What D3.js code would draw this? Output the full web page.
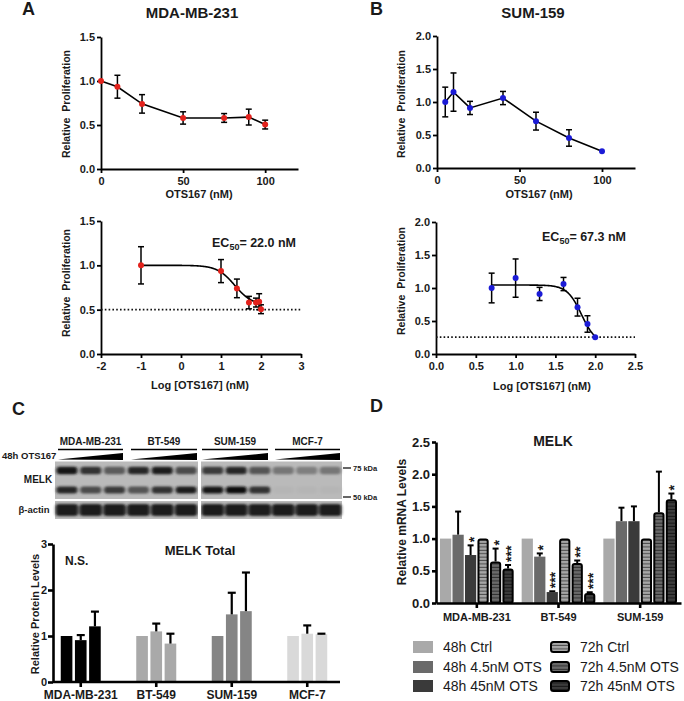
<!DOCTYPE html>
<html>
<head>
<meta charset="utf-8">
<script src="https://cdn.jsdelivr.net/npm/d3@7"></script>
<style>
  body { margin: 0; background: #fff; }
  svg text { font-family: "Liberation Sans", Arial, sans-serif; font-weight: bold; }
</style>
</head>
<body>
<div id="chart"></div>
<script>
// ---------- data ----------
// A: MDA-MB-231 dose response
const concA = [0, 10, 25, 50, 75, 90, 100];
const logConcA = [-1, 1, 1.398, 1.699, 1.875, 1.954, 2];
const prolifA = [1.0, 0.935, 0.74, 0.58, 0.58, 0.59, 0.505];
const errA = [0.21, 0.13, 0.105, 0.07, 0.05, 0.09, 0.05];
const fitA = { top: 1.0, bottom: 0.55, ec50: 22.0, hill: 2 };
const floorA = 0.5;

// B: SUM-159 dose response
const concB = [5, 10, 20, 40, 60, 80, 100];
const logConcB = [0.699, 1, 1.301, 1.602, 1.778, 1.903, 2];
const prolifB = [1.0, 1.15, 0.91, 1.06, 0.71, 0.455, 0.255];
const errB = [0.225, 0.29, 0.10, 0.10, 0.135, 0.125, 0];
const fitB = { top: 1.045, bottom: 0.15, ec50: 67.3, hill: 4.8 };
const floorB = 0.255;

// C: western blot + quantification
const cellLines = ["MDA-MB-231", "BT-549", "SUM-159", "MCF-7"];
const melkUpper = [0.95, 0.8, 0.55, 0.85, 0.9, 0.65, 0.75, 0.85, 0.6, 0.4, 0.35, 0.4];
const melkLower = [0.85, 0.65, 0.75, 0.6, 0.8, 0.9, 0.95, 1.0, 0.8, 0.04, 0.04, 0.04];
const actinBand = [0.92, 0.9, 0.92, 0.92, 0.92, 0.9, 0.9, 0.9, 0.9, 0.92, 0.92, 0.92];
const proteinLevels = [[1.0, 0.91, 1.21], [1.0, 1.10, 0.835], [1.0, 1.47, 1.54], [1.0, 1.05, 1.04]];
const proteinErr = [[0, 0.11, 0.32], [0, 0.17, 0.215], [0, 0.47, 0.84], [0, 0.18, 0.01]];
const proteinColors = ["#000000", "#a9a9a9", "#858585", "#d9d9d9"];

// D: MELK mRNA
const mrnaLines = ["MDA-MB-231", "BT-549", "SUM-159"];
const mrnaSeries = ["48h Ctrl", "48h 4.5nM OTS", "48h 45nM OTS", "72h Ctrl", "72h 4.5nM OTS", "72h 45nM OTS"];
const mrnaLevels = [[1, 1.06, 0.745, 1, 0.645, 0.535], [1, 0.72, 0.17, 1, 0.62, 0.155], [1, 1.27, 1.27, 1, 1.41, 1.61]];
const mrnaErr = [[0, 0.36, 0.15, 0, 0.2, 0.055], [0, 0.05, 0.012, 0, 0.04, 0.012], [0, 0.21, 0.23, 0, 0.63, 0.09]];
const mrnaSig = [["", "", "*", "", "*", "***"], ["", "*", "***", "", "**", "***"], ["", "", "", "", "", "*"]];
const mrnaFill = ["#a9a9a9", "#6a6a6a", "#3a3a3a", "#a6a6a6", "#6a6a6a", "#3c3c3c"];
const mrnaStripe = ["", "", "", "#4a4a4a", "#2e2e2e", "#161616"];

const ink = "#1a1a1a";

const svg = d3.select("#chart").append("svg").attr("width", 684).attr("height", 701);
const defs = svg.append("defs");

function label(x, y, txt, size, opts = {}) {
  return svg.append("text")
    .attr("x", x).attr("y", y)
    .attr("text-anchor", opts.anchor || "middle")
    .style("font-size", size + "px")
    .style("font-weight", opts.weight || "bold")
    .attr("fill", ink)
    .text(txt);
}

function vlabel(x, y, txt, size) {
  return svg.append("text")
    .attr("transform", `translate(${x},${y}) rotate(-90)`)
    .attr("text-anchor", "middle")
    .attr("dy", "0.35em")
    .style("font-size", size + "px")
    .style("white-space", "pre")
    .attr("fill", ink)
    .text(txt);
}

function styleAxis(g, size, sw) {
  g.select(".domain").attr("stroke", "#000").attr("stroke-width", sw);
  g.selectAll(".tick line").attr("stroke", "#000").attr("stroke-width", sw);
  g.selectAll(".tick text").style("font-size", size + "px").attr("fill", ink);
}

// ---------- dose response panels ----------
function dosePanel(cfg) {
  const x = d3.scaleLinear().domain(cfg.xDomain).range(cfg.xRange);
  const y = d3.scaleLinear().domain(cfg.yDomain).range(cfg.yRange);
  const g = svg.append("g");

  const ax = g.append("g")
    .attr("transform", `translate(0,${cfg.yRange[0]})`)
    .call(d3.axisBottom(x).tickValues(cfg.xTicks).tickFormat(cfg.xFmt)
      .tickSize(4).tickSizeOuter(0).tickPadding(4));
  styleAxis(ax, 11, 1.8);

  const ay = g.append("g")
    .attr("transform", `translate(${cfg.xRange[0]},0)`)
    .call(d3.axisLeft(y).tickValues(cfg.yTicks).tickFormat(d3.format(".1f"))
      .tickSize(4).tickSizeOuter(0).tickPadding(2));
  styleAxis(ay, 11, 1.8);

  if (cfg.floor != null) {
    g.append("line")
      .attr("x1", cfg.xRange[0]).attr("x2", cfg.xRange[1])
      .attr("y1", y(cfg.floor)).attr("y2", y(cfg.floor))
      .attr("stroke", "#111").attr("stroke-width", 1.6)
      .attr("stroke-dasharray", "1.6,2.2");
  }

  if (cfg.fit) {
    // 4-parameter logistic fit drawn from the fit parameters
    const f = cfg.fit, lec = Math.log10(f.ec50);
    const xs = d3.range(cfg.xs[0], cfg.xs[cfg.xs.length - 1] + 0.0001, 0.01);
    const pts = xs.map(v => [x(v), y(f.bottom + (f.top - f.bottom) / (1 + Math.pow(10, (v - lec) * f.hill)))]);
    g.append("path").attr("d", d3.line()(pts))
      .attr("fill", "none").attr("stroke", "#000").attr("stroke-width", 1.6);
  } else {
    g.append("path")
      .attr("d", d3.line()(cfg.xs.map((v, i) => [x(v), y(cfg.ys[i])])))
      .attr("fill", "none").attr("stroke", "#000").attr("stroke-width", 1.6);
  }

  cfg.xs.forEach((v, i) => {
    const e = cfg.errs[i];
    if (!e || (cfg.skipZero && v === 0)) return;
    const cx = x(v), y1 = y(cfg.ys[i] + e), y2 = y(cfg.ys[i] - e);
    g.append("line").attr("x1", cx).attr("x2", cx).attr("y1", y1).attr("y2", y2)
      .attr("stroke", "#000").attr("stroke-width", 1.5);
    [y1, y2].forEach(yy => g.append("line")
      .attr("x1", cx - 3).attr("x2", cx + 3).attr("y1", yy).attr("y2", yy)
      .attr("stroke", "#000").attr("stroke-width", 1.5));
  });

  g.selectAll("circle.pt")
    .data(cfg.xs.map((v, i) => [v, cfg.ys[i]]))
    .join("circle")
    .attr("cx", d => x(d[0])).attr("cy", d => y(d[1]))
    .attr("r", 3).attr("fill", cfg.color);
}

// A
label(22, 15, "A", 18, { anchor: "start" });
label(192, 18, "MDA-MB-231", 15);
dosePanel({
  xDomain: [0, 120], xRange: [101, 298], xTicks: [0, 50, 100], xFmt: d3.format("d"),
  yDomain: [0, 1.5], yRange: [169, 37], yTicks: [0, 0.5, 1, 1.5],
  xs: concA, ys: prolifA, errs: errA, skipZero: true, color: "#e3221c"
});
label(199, 198, "OTS167 (nM)", 11);
vlabel(66, 104, "Relative  Proliferation", 10.5);

dosePanel({
  xDomain: [-2, 3], xRange: [101, 301], xTicks: [-2, -1, 0, 1, 2, 3], xFmt: d => String(d),
  yDomain: [0, 1.5], yRange: [354, 221], yTicks: [0, 0.5, 1, 1.5],
  xs: logConcA, ys: prolifA, errs: errA, fit: fitA, floor: floorA, color: "#e3221c"
});
label(200, 389, "Log [OTS167] (nM)", 11);
vlabel(66, 283, "Relative  Proliferation", 10.5);

function ecText(x, y, val) {
  const t = svg.append("text").attr("x", x).attr("y", y).style("font-size", "12.5px").attr("fill", ink);
  t.append("tspan").text("EC");
  t.append("tspan").attr("dy", 3).style("font-size", "9px").text("50");
  t.append("tspan").attr("dy", -3).text("= " + val.toFixed(1) + " nM");
}
ecText(212, 247, fitA.ec50);

// B
label(370, 15, "B", 18, { anchor: "start" });
label(533, 18, "SUM-159", 15);
dosePanel({
  xDomain: [0, 120], xRange: [437, 635], xTicks: [0, 50, 100], xFmt: d3.format("d"),
  yDomain: [0, 2], yRange: [168, 36], yTicks: [0, 0.5, 1, 1.5, 2],
  xs: concB, ys: prolifB, errs: errB, color: "#1b1bd6"
});
label(539, 198, "OTS167 (nM)", 11);
vlabel(401, 104, "Relative  Proliferation", 10.5);

dosePanel({
  xDomain: [0, 2.5], xRange: [436, 635], xTicks: [0, 0.5, 1, 1.5, 2, 2.5], xFmt: d3.format(".1f"),
  yDomain: [0, 2], yRange: [354, 222], yTicks: [0, 0.5, 1, 1.5, 2],
  xs: logConcB, ys: prolifB, errs: errB, fit: fitB, floor: floorB, color: "#1b1bd6"
});
label(542, 390, "Log [OTS167] (nM)", 11);
vlabel(401, 281, "Relative  Proliferation", 10.5);
ecText(542, 241, fitB.ec50);

// ---------- C: blot ----------
label(12, 415, "C", 18, { anchor: "start" });

const blurF = defs.append("filter").attr("id", "blur").attr("x", "-30%").attr("y", "-80%")
  .attr("width", "160%").attr("height", "260%");
blurF.append("feGaussianBlur").attr("stdDeviation", "1.6 1.2");

const groupSpan = [[58, 123], [131, 197], [202, 268], [275, 340]];
cellLines.forEach((c, i) => {
  const [a, b] = groupSpan[i];
  label((a + b) / 2, 445, c, 10);
  svg.append("line").attr("x1", a).attr("x2", b).attr("y1", 449.5).attr("y2", 449.5)
    .attr("stroke", "#000").attr("stroke-width", 1.5);
  svg.append("path").attr("d", `M${a},459.5L${b},453L${b},460Z`).attr("fill", "#000");
});
label(2, 459, "48h OTS167", 9.5, { anchor: "start" });
label(38, 483, "MELK", 10);
label(34, 513, "β-actin", 9.5);

const sections = [[55, 198], [201, 342]];
const laneScale = sections.map(s => d3.scaleBand().domain(d3.range(6)).range(s));
const laneX = d3.range(12).map(i => {
  const s = laneScale[Math.floor(i / 6)];
  return s(i % 6) + s.bandwidth() / 2;
});
const bandShade = d3.interpolateRgb("#bcbcbc", "#0e0e0e");

[[461.5, 499], [501, 519]].forEach(([y0, y1]) => {
  sections.forEach(([a, b]) => {
    svg.append("rect").attr("x", a).attr("y", y0).attr("width", b - a).attr("height", y1 - y0)
      .attr("fill", "#bababa");
  });
});

const blot = svg.append("g").attr("filter", "url(#blur)");
function bands(vals, cy, h, w) {
  blot.selectAll(null).data(vals).join("rect")
    .attr("x", (d, i) => laneX[i] - w / 2).attr("y", cy - h / 2)
    .attr("width", w).attr("height", h).attr("rx", 3)
    .attr("fill", d => bandShade(d));
}
bands(melkUpper, 470.5, 7.5, 21);
bands(melkLower, 490, 7, 21);
bands(actinBand, 510, 12, 22.5);

// splice lines between blot sections
svg.append("rect").attr("x", 198).attr("y", 461).attr("width", 3).attr("height", 59).attr("fill", "#fff");
svg.append("rect").attr("x", 55).attr("y", 499).attr("width", 288).attr("height", 2).attr("fill", "#fff");

[[468, "75 kDa"], [497, "50 kDa"]].forEach(([yy, t]) => {
  svg.append("line").attr("x1", 343).attr("x2", 351).attr("y1", yy).attr("y2", yy)
    .attr("stroke", "#000").attr("stroke-width", 1.2);
  label(353, yy + 2.7, t, 7.5, { anchor: "start" });
});

// ---------- C: quantification ----------
const xC = d3.scaleBand().domain(cellLines).range([43, 345]);
const xC1 = d3.scaleBand().domain(d3.range(3))
  .range([xC.bandwidth() / 2 - 20, xC.bandwidth() / 2 + 20]).paddingInner(0.18);
const yC = d3.scaleLinear().domain([0, 3]).range([682, 544]);

const gC = svg.append("g");
cellLines.forEach((c, i) => {
  proteinLevels[i].forEach((v, j) => {
    const bx = xC(c) + xC1(j), bw = xC1.bandwidth(), cx = bx + bw / 2;
    gC.append("rect").attr("x", bx).attr("y", yC(v)).attr("width", bw).attr("height", yC(0) - yC(v))
      .attr("fill", proteinColors[i]);
    const e = proteinErr[i][j];
    if (e > 0) {
      gC.append("line").attr("x1", cx).attr("x2", cx).attr("y1", yC(v)).attr("y2", yC(v + e))
        .attr("stroke", "#000").attr("stroke-width", 2.2);
      gC.append("line").attr("x1", cx - 4).attr("x2", cx + 4).attr("y1", yC(v + e)).attr("y2", yC(v + e))
        .attr("stroke", "#000").attr("stroke-width", 2.2);
    }
  });
});

const axC = svg.append("g").attr("transform", "translate(0,682)")
  .call(d3.axisBottom(xC).tickSize(5).tickSizeOuter(0).tickPadding(3));
axC.select(".domain").attr("d", "M53,0H340");
styleAxis(axC, 12, 2.6);

const ayC = svg.append("g").attr("transform", "translate(53,0)")
  .call(d3.axisLeft(yC).tickValues([0, 1, 2, 3]).tickFormat(d3.format("d"))
    .tickSize(5).tickSizeOuter(0).tickPadding(1));
styleAxis(ayC, 11, 2.6);

label(200, 555, "MELK Total", 13);
label(65, 565, "N.S.", 12, { anchor: "start" });
vlabel(35, 614, "Relative Protein Levels", 11);

// ---------- D: mRNA ----------
label(370, 412, "D", 18, { anchor: "start" });

mrnaSeries.forEach((s, k) => {
  if (!mrnaStripe[k]) return;
  const pat = defs.append("pattern").attr("id", "stripe" + k)
    .attr("patternUnits", "userSpaceOnUse").attr("width", 6).attr("height", 3.4);
  pat.append("rect").attr("width", 6).attr("height", 3.4).attr("fill", mrnaFill[k]);
  pat.append("rect").attr("y", 2.4).attr("width", 6).attr("height", 1).attr("fill", mrnaStripe[k]);
});
const fillFor = k => mrnaStripe[k] ? `url(#stripe${k})` : mrnaFill[k];

const xD = d3.scaleBand().domain(mrnaLines).range([436, 681]);
const xD1 = d3.scaleBand().domain(d3.range(6)).range([4, xD.bandwidth() - 4]).paddingInner(0.1);
const yD = d3.scaleLinear().domain([0, 2.5]).range([603, 442]);

const gD = svg.append("g");
mrnaLines.forEach((c, i) => {
  mrnaLevels[i].forEach((v, k) => {
    const bx = xD(c) + xD1(k), bw = xD1.bandwidth(), cx = bx + bw / 2;
    const e = mrnaErr[i][k];
    if (e > 0) {
      gD.append("line").attr("x1", cx).attr("x2", cx).attr("y1", yD(v)).attr("y2", yD(v + e))
        .attr("stroke", "#000").attr("stroke-width", 2);
      gD.append("line").attr("x1", cx - 3).attr("x2", cx + 3).attr("y1", yD(v + e)).attr("y2", yD(v + e))
        .attr("stroke", "#000").attr("stroke-width", 2);
    }
    if (mrnaStripe[k]) {
      gD.append("rect").attr("x", bx + 1).attr("y", yD(v) + 1).attr("width", bw - 2)
        .attr("height", yD(0) - yD(v) - 1).attr("rx", 2)
        .attr("fill", fillFor(k)).attr("stroke", "#000").attr("stroke-width", 2);
    } else {
      gD.append("rect").attr("x", bx).attr("y", yD(v)).attr("width", bw)
        .attr("height", yD(0) - yD(v)).attr("fill", fillFor(k));
    }
    const sig = mrnaSig[i][k];
    if (sig) {
      gD.append("text")
        .attr("transform", `translate(${cx},${yD(v + e) - 3}) rotate(-90)`)
        .attr("dy", "0.57em")
        .style("font-size", "14px")
        .attr("fill", ink)
        .text(sig);
    }
  });
});

const axD = svg.append("g").attr("transform", "translate(0,603)")
  .call(d3.axisBottom(xD).tickSize(5).tickSizeOuter(0).tickPadding(5.5));
styleAxis(axD, 11, 2.6);
const ayD = svg.append("g").attr("transform", "translate(436,0)")
  .call(d3.axisLeft(yD).tickValues([0, 0.5, 1, 1.5, 2, 2.5]).tickFormat(d3.format(".1f"))
    .tickSize(4).tickSizeOuter(0).tickPadding(2));
styleAxis(ayD, 13, 2.6);

label(553, 446, "MELK", 14);
vlabel(402, 522, "Relative mRNA Levels", 12);

// legend, two columns of three
const legend = svg.append("g");
mrnaSeries.forEach((s, k) => {
  const col = Math.floor(k / 3), row = k % 3;
  const lx = [413, 550][col], ly = [647, 667, 686][row];
  if (mrnaStripe[k]) {
    legend.append("rect").attr("x", lx + 1).attr("y", ly - 5).attr("width", 18).attr("height", 10)
      .attr("rx", 2.5).attr("fill", fillFor(k)).attr("stroke", "#000").attr("stroke-width", 2);
  } else {
    legend.append("rect").attr("x", lx).attr("y", ly - 6).attr("width", 20).attr("height", 12)
      .attr("fill", fillFor(k));
  }
  legend.append("text").attr("x", lx + 30).attr("y", ly).attr("dy", "0.36em")
    .style("font-size", "14px").style("font-weight", "normal").attr("fill", ink)
    .text(s);
});
</script>
</body>
</html>
